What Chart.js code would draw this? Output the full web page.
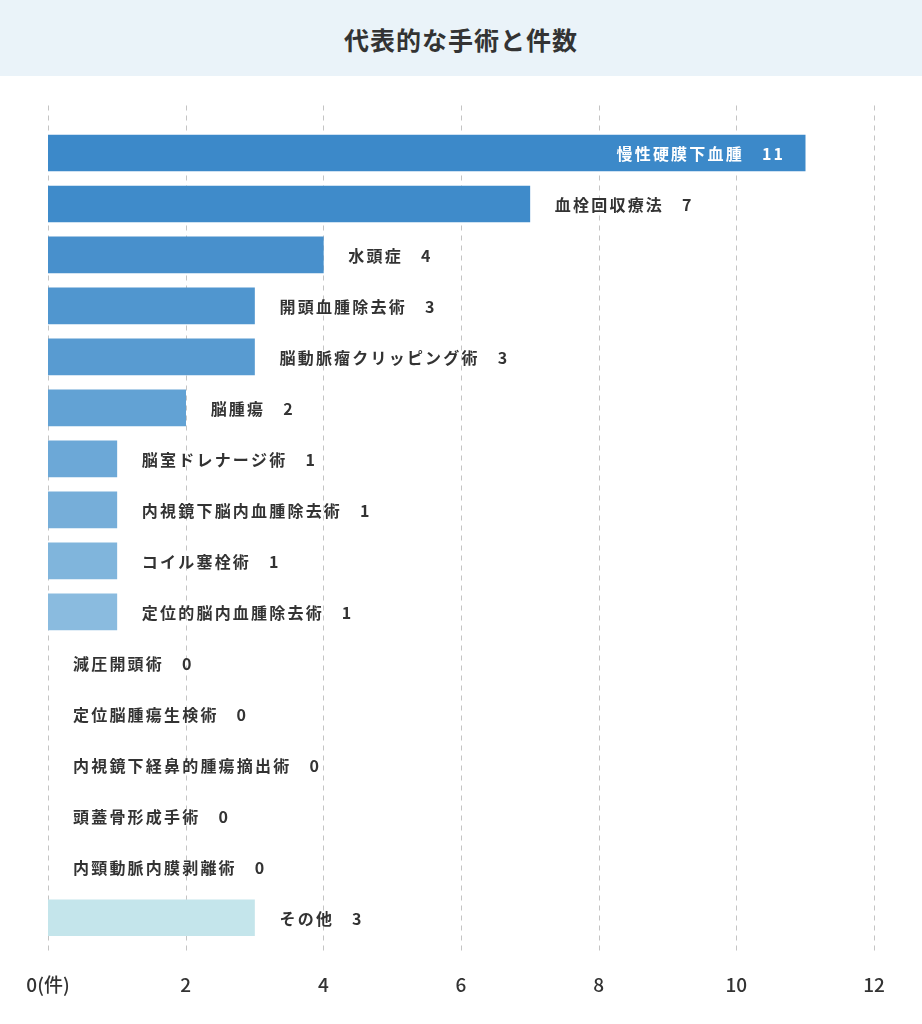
<!DOCTYPE html>
<html lang="ja">
<head>
<meta charset="utf-8">
<script src="https://cdn.jsdelivr.net/npm/chart.js@4.4.1/dist/chart.umd.min.js"></script>
<style>
  html, body { margin: 0; padding: 0; background: #fff; }
  body { width: 922px; height: 1024px; overflow: hidden; font-family: "Noto Sans CJK JP", "Noto Sans", sans-serif; }
  .title {
    height: 76px; line-height: 78px; background: #eaf3f9; text-align: center;
    font-size: 25px; font-weight: 700; color: #333; letter-spacing: 1px;
  }
  .wrap { position: relative; width: 922px; height: 948px; }
</style>
</head>
<body>
<div class="title">代表的な手術と件数</div>
<div class="wrap"><canvas id="grafico"></canvas></div>
<script>
// 手術名と件数
const procedimentos = [
  '慢性硬膜下血腫', '血栓回収療法', '水頭症', '開頭血腫除去術', '脳動脈瘤クリッピング術',
  '脳腫瘍', '脳室ドレナージ術', '内視鏡下脳内血腫除去術', 'コイル塞栓術', '定位的脳内血腫除去術',
  '減圧開頭術', '定位脳腫瘍生検術', '内視鏡下経鼻的腫瘍摘出術', '頭蓋骨形成手術', '内頸動脈内膜剥離術',
  'その他'
];
const quantidades = [11, 7, 4, 3, 3, 2, 1, 1, 1, 1, 0, 0, 0, 0, 0, 3];
const ticksX = [0, 2, 4, 6, 8, 10, 12];
const cores = [
  '#3c89c9', '#3f8bca', '#4890cc', '#5096cf', '#589bd1', '#62a2d4', '#6ca8d7', '#76aed9',
  '#80b5dc', '#8abbdf', 'transparent', 'transparent', 'transparent', 'transparent', 'transparent', '#c4e5eb'
];

const fonte = '"Noto Sans CJK JP", "Noto Sans", sans-serif';

// linhas de grade tracejadas (passam um pouco além da área do gráfico)
const gradeTracejada = {
  id: 'gradeTracejada',
  beforeDatasetsDraw(chart) {
    const { ctx, chartArea, scales } = chart;
    ctx.save();
    ctx.strokeStyle = '#c4c4c4';
    ctx.lineWidth = 1;
    ctx.setLineDash([5, 5]);
    ticksX.forEach(v => {
      const x = Math.round(scales.x.getPixelForValue(v)) + 0.5;
      ctx.beginPath();
      ctx.moveTo(x, chartArea.top - 22);
      ctx.lineTo(x, chartArea.bottom + 12);
      ctx.stroke();
    });
    ctx.restore();
  }
};

// rótulos: nome + quantidade ao lado da barra
const rotulos = {
  id: 'rotulos',
  afterDatasetsDraw(chart) {
    const { ctx } = chart;
    const meta = chart.getDatasetMeta(0);
    const maximo = Math.max(...quantidades);
    ctx.save();
    ctx.font = '700 16px ' + fonte;
    ctx.letterSpacing = '2.2px';
    ctx.textBaseline = 'middle';
    ctx.textAlign = 'left';
    meta.data.forEach((barra, i) => {
      const nome = procedimentos[i];
      const valor = String(quantidades[i]);
      const wNome = ctx.measureText(nome).width;
      const wValor = ctx.measureText(valor).width;
      const gap = 18;
      const y = barra.y + 1;
      if (quantidades[i] / maximo >= 0.8) {
        ctx.fillStyle = '#ffffff';
        const fim = barra.x - 20;
        ctx.fillText(valor, fim - wValor, y);
        ctx.fillText(nome, fim - wValor - gap - wNome, y);
      } else {
        ctx.fillStyle = '#333333';
        const ini = barra.x + 25;
        ctx.fillText(nome, ini, y);
        ctx.fillText(valor, ini + wNome + gap, y);
      }
    });
    ctx.restore();
  }
};

const ctxGrafico = document.getElementById('grafico').getContext('2d');
const grafico = new Chart(ctxGrafico, {
  type: 'bar',
  data: {
    labels: procedimentos,
    datasets: [{
      label: '件数',
      data: quantidades,
      backgroundColor: cores,
      borderWidth: 0,
      barThickness: 36
    }]
  },
  options: {
    indexAxis: 'y',
    responsive: true,
    maintainAspectRatio: false,
    animation: false,
    layout: { padding: { top: 51.5, left: 48, right: 48, bottom: -2 } },
    plugins: {
      legend: { display: false },
      tooltip: { enabled: false }
    },
    scales: {
      x: {
        min: 0,
        max: 12,
        afterBuildTicks(scale) {
          scale.ticks = ticksX.map(v => ({ value: v }));
        },
        afterFit(scale) {
          scale.paddingLeft = 0;
          scale.paddingRight = 0;
        },
        grid: { display: false, drawTicks: false },
        border: { display: false },
        ticks: {
          padding: 30,
          color: '#333',
          font: { family: fonte, size: 19, weight: '500' },
          maxRotation: 0,
          callback: v => v === 0 ? '0(件)' : String(v)
        }
      },
      y: {
        display: false,
        grid: { display: false }
      }
    }
  },
  plugins: [gradeTracejada, rotulos]
});
</script>
</body>
</html>
